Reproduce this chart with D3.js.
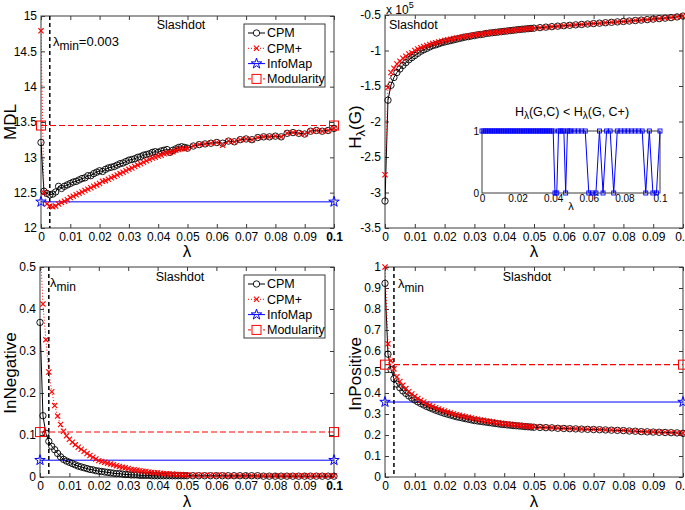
<!DOCTYPE html>
<html><head><meta charset="utf-8">
<script src="https://cdn.jsdelivr.net/npm/d3@7"></script>
<style>
body{margin:0;background:#fff}
svg{display:block}
text{font-family:"Liberation Sans",Arial,Helvetica,sans-serif;fill:#000}
</style>
</head><body>
<svg id="c" width="685" height="510"></svg>
<script>
// ---------- DATA ----------
const lambda = [0,0.001,0.002,0.003,0.004,0.005,0.006,0.007,0.008,0.009,
0.010,0.011,0.012,0.013,0.014,0.015,0.016,0.017,0.018,0.019,
0.020,0.021,0.022,0.023,0.024,0.025,0.026,0.027,0.028,0.029,
0.030,0.031,0.032,0.033,0.034,0.035,0.036,0.037,0.038,0.039,
0.040,0.041,0.042,0.043,0.044,0.045,0.046,0.047,0.048,0.049,
0.050,0.052,0.054,0.056,0.058,0.060,0.062,0.064,0.066,0.068,
0.070,0.072,0.074,0.076,0.078,0.080,0.082,0.084,0.086,0.088,
0.090,0.092,0.094,0.096,0.098,0.100];

const mdlCPM = [13.21,12.52,12.49,12.47,12.48,12.51,12.59,12.56,12.59,12.61,
12.63,12.65,12.66,12.68,12.70,12.71,12.74,12.74,12.77,12.79,
12.81,12.80,12.83,12.85,12.86,12.87,12.89,12.91,12.92,12.94,
12.96,12.97,12.98,13.00,13.01,13.03,13.04,13.05,13.07,13.08,
13.07,13.09,13.10,13.11,13.07,13.10,13.12,13.14,13.15,13.14,
13.13,13.16,13.18,13.19,13.20,13.21,13.20,13.23,13.22,13.25,
13.26,13.25,13.28,13.29,13.29,13.30,13.29,13.34,13.35,13.34,
13.33,13.37,13.38,13.37,13.38,13.41];
const mdlCPMplus = [14.79,12.50,12.34,12.31,12.30,12.31,12.34,12.36,12.38,12.40,
12.43,12.45,12.47,12.49,12.51,12.53,12.55,12.57,12.59,12.61,
12.63,12.66,12.67,12.69,12.71,12.73,12.75,12.77,12.79,12.81,
12.83,12.85,12.87,12.89,12.91,12.93,12.95,12.97,12.99,13.00,
13.02,13.03,13.05,13.06,13.07,13.08,13.10,13.11,13.12,13.12,
13.13,13.16,13.18,13.19,13.20,13.21,13.17,13.23,13.22,13.25,
13.26,13.25,13.28,13.29,13.29,13.30,13.29,13.34,13.35,13.34,
13.33,13.37,13.38,13.37,13.38,13.41];
const mdlInfoMap = 12.37;
const mdlModularity = 13.45;

// H_lambda(G) in units of 1e5
const hCPM = [-3.12,-1.70,-1.49,-1.38,-1.31,-1.26,-1.21,-1.17,-1.13,-1.10,
-1.07,-1.04,-1.01,-0.99,-0.97,-0.95,-0.93,-0.92,-0.905,-0.89,
-0.88,-0.87,-0.86,-0.85,-0.84,-0.83,-0.82,-0.81,-0.805,-0.795,
-0.79,-0.78,-0.775,-0.77,-0.76,-0.755,-0.75,-0.745,-0.74,-0.735,
-0.73,-0.725,-0.72,-0.715,-0.71,-0.705,-0.70,-0.697,-0.693,-0.689,
-0.685,-0.678,-0.671,-0.664,-0.657,-0.651,-0.645,-0.639,-0.633,-0.627,
-0.621,-0.615,-0.609,-0.603,-0.597,-0.591,-0.585,-0.578,-0.572,-0.565,
-0.558,-0.551,-0.544,-0.537,-0.527,-0.515];
const hCPMplus = [-2.75,-1.52,-1.31,-1.25,-1.19,-1.15,-1.11,-1.08,-1.05,-1.03,
-1.00,-0.98,-0.96,-0.945,-0.93,-0.915,-0.90,-0.89,-0.88,-0.87,
-0.86,-0.85,-0.84,-0.832,-0.824,-0.816,-0.808,-0.80,-0.795,-0.788,
-0.782,-0.776,-0.77,-0.765,-0.758,-0.752,-0.747,-0.742,-0.738,-0.733,
-0.728,-0.724,-0.72,-0.715,-0.71,-0.705,-0.70,-0.697,-0.693,-0.689,
-0.685,-0.678,-0.671,-0.664,-0.657,-0.651,-0.645,-0.639,-0.633,-0.627,
-0.621,-0.615,-0.609,-0.603,-0.597,-0.591,-0.585,-0.578,-0.572,-0.565,
-0.558,-0.551,-0.544,-0.537,-0.527,-0.515];

// inset: 1 if H(G,C) < H(G,C+)
const insetFlag = [1,1,1,1,1,1,1,1,1,1,
1,1,1,1,1,1,1,1,1,1,
1,1,1,1,1,1,1,1,1,1,
1,1,1,1,1,1,1,1,1,1,
1,0,0,1,1,1,1,0,1,1,
1,1,1,1,1,0,0,0,1,0,
1,1,0,1,1,1,1,1,1,1,
1,0,1,0,0,1];

const negCPM = [0.368,0.146,0.104,0.085,0.073,0.065,0.056,0.048,0.042,0.038,
0.035,0.032,0.029,0.026,0.024,0.022,0.020,0.018,0.017,0.015,
0.014,0.013,0.012,0.011,0.010,0.009,0.008,0.008,0.007,0.006,
0.006,0.005,0.005,0.005,0.004,0.004,0.004,0.004,0.003,0.003,
0.003,0.003,0.003,0.003,0.003,0.003,0.003,0.003,0.003,0.003,
0.003,0.003,0.003,0.003,0.003,0.003,0.003,0.003,0.003,0.003,
0.003,0.003,0.003,0.002,0.002,0.002,0.002,0.002,0.002,0.002,
0.002,0.002,0.002,0.002,0.002,0.002];
const negCPMplus = [0.56,0.412,0.327,0.250,0.203,0.170,0.145,0.125,0.109,0.098,
0.090,0.083,0.077,0.071,0.066,0.061,0.056,0.051,0.047,0.043,
0.039,0.037,0.035,0.033,0.031,0.029,0.027,0.025,0.023,0.022,
0.020,0.018,0.017,0.016,0.015,0.014,0.013,0.012,0.011,0.010,
0.010,0.009,0.008,0.008,0.007,0.007,0.006,0.006,0.006,0.005,
0.005,0.004,0.004,0.004,0.004,0.004,0.004,0.003,0.003,0.003,
0.003,0.003,0.003,0.003,0.003,0.003,0.003,0.003,0.003,0.003,
0.003,0.003,0.003,0.003,0.003,0.003];
const negInfoMap = 0.040;
const negModularity = 0.107;

const posCPM = [0.922,0.585,0.512,0.468,0.442,0.425,0.410,0.398,0.386,0.376,
0.367,0.358,0.350,0.343,0.336,0.330,0.324,0.318,0.313,0.308,
0.303,0.299,0.295,0.291,0.287,0.284,0.281,0.278,0.275,0.272,
0.269,0.267,0.265,0.263,0.261,0.259,0.257,0.255,0.253,0.251,
0.250,0.248,0.247,0.245,0.244,0.243,0.242,0.240,0.239,0.238,
0.237,0.236,0.235,0.234,0.232,0.231,0.230,0.229,0.228,0.227,
0.226,0.225,0.224,0.223,0.222,0.221,0.219,0.218,0.216,0.215,
0.214,0.213,0.212,0.211,0.210,0.208];
const posCPMplus = [1.000,0.634,0.554,0.515,0.477,0.455,0.437,0.421,0.407,0.395,
0.384,0.374,0.365,0.357,0.349,0.342,0.336,0.330,0.324,0.319,
0.314,0.309,0.305,0.301,0.297,0.294,0.290,0.287,0.284,0.281,
0.278,0.275,0.272,0.270,0.267,0.265,0.263,0.260,0.258,0.256,
0.254,0.252,0.251,0.249,0.247,0.246,0.244,0.243,0.241,0.240,
0.239,0.237,0.236,0.235,0.233,0.232,0.231,0.230,0.229,0.228,
0.227,0.226,0.225,0.224,0.223,0.222,0.220,0.219,0.217,0.216,
0.215,0.214,0.213,0.212,0.211,0.209];
const posInfoMap = 0.357;
const posModularity = 0.535;

const lambdaMin = 0.003;
const xTicks = [0,0.01,0.02,0.03,0.04,0.05,0.06,0.07,0.08,0.09,0.1];
const xTickLabels = ["0","0.01","0.02","0.03","0.04","0.05","0.06","0.07","0.08","0.09","0.1"];
const mdlTicks = [12,12.5,13,13.5,14,14.5,15];
const mdlTickLabels = ["12","12.5","13","13.5","14","14.5","15"];
const hTicks = [-3.5,-3,-2.5,-2,-1.5,-1,-0.5];
const hTickLabels = ["-3.5","-3","-2.5","-2","-1.5","-1","-0.5"];
const negTicks = [0,0.1,0.2,0.3,0.4,0.5];
const negTickLabels = ["0","0.1","0.2","0.3","0.4","0.5"];
const posTicks = [0,0.1,0.2,0.3,0.4,0.5,0.6,0.7,0.8,0.9,1];
const posTickLabels = ["0","0.1","0.2","0.3","0.4","0.5","0.6","0.7","0.8","0.9","1"];
const insetXTicks = [0,0.02,0.04,0.06,0.08,0.1];
const insetXTickLabels = ["0","0.02","0.04","0.06","0.08","0.1"];
const legendLabels = ["CPM","CPM+","InfoMap","Modularity"];

// ---------- DRAWING ----------
const svg = d3.select("#c");
const AX = "#3a3a3a";
const RED = "#ff0000", BLUE = "#0000ff";
const crossPath = "M-2.6,-2.6L2.6,2.6M-2.6,2.6L2.6,-2.6";
const starPath = d3.symbol(d3.symbolStar, 34)();
let clipN = 0;

function axesFrame(o){
  const x = d3.scaleLinear().domain(o.xDomain).range([o.x0,o.x1]);
  const y = d3.scaleLinear().domain(o.yDomain).range([o.y1,o.y0]);
  const g = svg.append("g");
  const fs = o.fs || 12;
  const style = sel => {
    sel.select(".domain").remove();
    sel.selectAll(".tick line").attr("stroke",AX);
    sel.selectAll(".tick text").attr("font-size",fs).attr("fill","#000")
      .style("font-family",'"Liberation Sans",Arial,sans-serif');
  };
  const tl = o.tickLen === undefined ? 4 : o.tickLen;
  g.append("g").attr("transform",`translate(0,${o.y1})`)
    .call(d3.axisBottom(x).tickValues(o.xTicks).tickFormat((d,i)=>o.xLabels[i]).tickSizeInner(-tl).tickSizeOuter(0).tickPadding(o.xPad||4))
    .call(style).call(s=>{ if(o.boldLast) s.selectAll(".tick text").filter((d,i)=>i===o.xTicks.length-1).attr("font-weight","bold"); });
  g.append("g").attr("transform",`translate(${o.x0},0)`)
    .call(d3.axisLeft(y).tickValues(o.yTicks).tickFormat((d,i)=>o.yLabels[i]).tickSizeInner(-tl).tickSizeOuter(0).tickPadding(o.yPad||4))
    .call(style);
  if (tl>0){
    g.append("g").attr("transform",`translate(0,${o.y0})`)
      .call(d3.axisTop(x).tickValues(o.xTicks).tickFormat("").tickSizeInner(-tl).tickSizeOuter(0)).call(style);
    g.append("g").attr("transform",`translate(${o.x1},0)`)
      .call(d3.axisRight(y).tickValues(o.yTicks).tickFormat("").tickSizeInner(-tl).tickSizeOuter(0)).call(style);
  }
  g.append("rect").attr("x",o.x0).attr("y",o.y0).attr("width",o.x1-o.x0).attr("height",o.y1-o.y0)
    .attr("fill","none").attr("stroke",AX).attr("stroke-width",1);
  const id = "clip"+(clipN++);
  svg.append("clipPath").attr("id",id).append("rect")
    .attr("x",o.x0).attr("y",o.y0).attr("width",o.x1-o.x0).attr("height",o.y1-o.y0);
  const plot = svg.append("g").attr("clip-path",`url(#${id})`);
  const marks = svg.append("g");
  return {x,y,g,plot,marks,o};
}

function drawCurves(P, cpm, cpmPlus){
  const {x,y,plot,marks} = P;
  const [lo,hi] = y.domain();
  const line = d3.line().x((d,i)=>x(lambda[i])).y(d=>y(d));
  plot.append("path").attr("d",line(cpm)).attr("fill","none").attr("stroke","#000").attr("stroke-width",1);
  plot.append("path").attr("d",line(cpmPlus)).attr("fill","none").attr("stroke",RED).attr("stroke-width",1).attr("stroke-dasharray","1,2");
  marks.append("g").selectAll("circle").data(cpm.map((v,i)=>[lambda[i],v]).filter(d=>d[1]>=lo&&d[1]<=hi))
    .join("circle").attr("cx",d=>x(d[0])).attr("cy",d=>y(d[1])).attr("r",3.2)
    .attr("fill","none").attr("stroke","#000").attr("stroke-width",0.9);
  marks.append("g").selectAll("path").data(cpmPlus.map((v,i)=>[lambda[i],v]).filter(d=>d[1]>=lo&&d[1]<=hi))
    .join("path").attr("d",crossPath).attr("transform",d=>`translate(${x(d[0])},${y(d[1])})`)
    .attr("fill","none").attr("stroke",RED).attr("stroke-width",1.1);
}

function drawRefs(P, infoVal, modVal){
  const {x,y,plot,marks} = P;
  const ends = [0,0.1];
  plot.append("line").attr("x1",x(0)).attr("x2",x(0.1)).attr("y1",y(modVal)).attr("y2",y(modVal))
    .attr("stroke",RED).attr("stroke-width",1.1).attr("stroke-dasharray","6,3");
  plot.append("line").attr("x1",x(0)).attr("x2",x(0.1)).attr("y1",y(infoVal)).attr("y2",y(infoVal))
    .attr("stroke",BLUE).attr("stroke-width",1);
  marks.selectAll(null).data(ends).join("rect").attr("x",d=>x(d)-4.5).attr("y",y(modVal)-4.5)
    .attr("width",9).attr("height",9).attr("fill","none").attr("stroke",RED).attr("stroke-width",1);
  marks.selectAll(null).data(ends).join("path").attr("d",starPath)
    .attr("transform",d=>`translate(${x(d)},${y(infoVal)})`).attr("fill","none").attr("stroke",BLUE).attr("stroke-width",1);
}

function lambdaMinLine(P){
  const {x,y,plot} = P;
  plot.append("line").attr("x1",x(lambdaMin)).attr("x2",x(lambdaMin)).attr("y1",P.o.y0).attr("y2",P.o.y1)
    .attr("stroke","#000").attr("stroke-width",1.5).attr("stroke-dasharray","4,3");
}

function lambdaMinText(px,py,suffix){
  const t = svg.append("text").attr("x",px).attr("y",py).attr("font-size",13);
  t.append("tspan").text("λ");
  t.append("tspan").attr("dy",4).attr("font-size",12).text("min");
  if (suffix) t.append("tspan").attr("dy",-4).text(suffix);
}

function legend(bx,by){
  const w=81,h=63;
  const g = svg.append("g");
  g.append("rect").attr("x",bx).attr("y",by).attr("width",w).attr("height",h).attr("fill","#fff").attr("stroke",AX);
  legendLabels.forEach((lab,i)=>{
    const cy = by+9+i*15.3;
    const lx0 = bx+4, lx1 = bx+21, mx = bx+12.5;
    const ln = g.append("line").attr("x1",lx0).attr("x2",lx1).attr("y1",cy).attr("y2",cy).attr("stroke-width",1);
    if(i===0){ ln.attr("stroke","#000");
      g.append("circle").attr("cx",mx).attr("cy",cy).attr("r",3.2).attr("fill","#fff").attr("stroke","#000").attr("stroke-width",0.9); }
    if(i===1){ ln.attr("stroke",RED).attr("stroke-dasharray","1,2");
      g.append("path").attr("d",crossPath).attr("transform",`translate(${mx},${cy})`).attr("stroke",RED).attr("stroke-width",1.1); }
    if(i===2){ ln.attr("stroke",BLUE);
      g.append("path").attr("d",starPath).attr("transform",`translate(${mx},${cy})`).attr("fill","none").attr("stroke",BLUE); }
    if(i===3){ ln.attr("stroke",RED).attr("stroke-dasharray","3,2");
      g.append("rect").attr("x",mx-4.5).attr("y",cy-4.5).attr("width",9).attr("height",9).attr("fill","#fff").attr("stroke",RED); }
    g.append("text").attr("x",bx+23).attr("y",cy).attr("dy","0.35em").attr("font-size",12.5).text(lab);
  });
}

function yLabel(px,py,txt){
  return svg.append("text").attr("transform",`translate(${px},${py}) rotate(-90)`).attr("text-anchor","middle").attr("font-size",17).text(txt);
}
function xLabel(px,py){
  svg.append("text").attr("x",px).attr("y",py).attr("text-anchor","middle").attr("font-size",17).text("λ");
}

// ---- Panel 1: MDL ----
const P1 = axesFrame({x0:41,x1:334,y0:16,y1:228,xDomain:[0,0.1],yDomain:[12,15],
  xTicks,xLabels:xTickLabels,yTicks:mdlTicks,yLabels:mdlTickLabels,boldLast:true});
lambdaMinLine(P1);
drawCurves(P1, mdlCPM, mdlCPMplus);
drawRefs(P1, mdlInfoMap, mdlModularity);
svg.append("text").attr("x",181).attr("y",29).attr("text-anchor","middle").attr("font-size",12.5).text("Slashdot");
lambdaMinText(53,46,"=0.003");
legend(244,24);
yLabel(16,122,"MDL");
xLabel(187,257);

// ---- Panel 2: H_lambda(G) ----
const P2 = axesFrame({x0:385,x1:683,y0:15,y1:228,xDomain:[0,0.1],yDomain:[-3.5,-0.5],
  xTicks,xLabels:xTickLabels,yTicks:hTicks,yLabels:hTickLabels});
drawCurves(P2, hCPM, hCPMplus);
svg.append("text").attr("x",389).attr("y",29).attr("font-size",12.5).text("Slashdot");
{
  const t = svg.append("text").attr("x",386).attr("y",14).attr("font-size",12);
  t.append("tspan").text("x 10");
  t.append("tspan").attr("dy",-6).attr("font-size",9).text("5");
}
{
  const t = svg.append("text").attr("transform","translate(361,127) rotate(-90)").attr("text-anchor","middle").attr("font-size",17);
  t.append("tspan").text("H");
  t.append("tspan").attr("dy",4).attr("font-size",13).text("λ");
  t.append("tspan").attr("dy",-4).text("(G)");
}
xLabel(534,257);

// inset
const P2i = axesFrame({x0:482,x1:660,y0:131,y1:193,xDomain:[0,0.1],yDomain:[0,1],
  xTicks:insetXTicks,xLabels:insetXTickLabels,yTicks:[0,1],yLabels:["0","1"],fs:10,tickLen:0,xPad:2,yPad:3});
{
  const {x,y,marks} = P2i;
  const line = d3.line().x((d,i)=>x(lambda[i])).y(d=>y(d));
  marks.append("path").attr("d",line(insetFlag)).attr("fill","none").attr("stroke",BLUE).attr("stroke-width",1);
  marks.selectAll(null).data(insetFlag.map((v,i)=>[lambda[i],v])).join("rect")
    .attr("x",d=>x(d[0])-2).attr("y",d=>y(d[1])-2).attr("width",4).attr("height",4)
    .attr("fill","none").attr("stroke",BLUE).attr("stroke-width",0.9);
  const t = svg.append("text").attr("x",572).attr("y",116).attr("text-anchor","middle").attr("font-size",12.5);
  t.append("tspan").text("H");
  t.append("tspan").attr("dy",3).attr("font-size",10).text("λ");
  t.append("tspan").attr("dy",-3).text("(G,C) < H");
  t.append("tspan").attr("dy",3).attr("font-size",10).text("λ");
  t.append("tspan").attr("dy",-3).text("(G, C+)");
  svg.append("text").attr("x",571).attr("y",210).attr("text-anchor","middle").attr("font-size",11).text("λ");
}

// ---- Panel 3: InNegative ----
const P3 = axesFrame({x0:40,x1:334,y0:267,y1:477,xDomain:[0,0.1],yDomain:[0,0.5],
  xTicks,xLabels:xTickLabels,yTicks:negTicks,yLabels:negTickLabels,boldLast:true});
lambdaMinLine(P3);
drawCurves(P3, negCPM, negCPMplus);
drawRefs(P3, negInfoMap, negModularity);
svg.append("text").attr("x",180).attr("y",281).attr("text-anchor","middle").attr("font-size",12.5).text("Slashdot");
lambdaMinText(50,287,null);
legend(244,275);
yLabel(16,373,"InNegative");
xLabel(187,507);

// ---- Panel 4: InPositive ----
const P4 = axesFrame({x0:385,x1:683,y0:267,y1:477,xDomain:[0,0.1],yDomain:[0,1],
  xTicks,xLabels:xTickLabels,yTicks:posTicks,yLabels:posTickLabels});
lambdaMinLine(P4);
drawCurves(P4, posCPM, posCPMplus);
drawRefs(P4, posInfoMap, posModularity);
svg.append("text").attr("x",527).attr("y",281).attr("text-anchor","middle").attr("font-size",12.5).text("Slashdot");
lambdaMinText(398,288,null);
yLabel(361,374,"InPositive");
xLabel(534,507);
</script>
</body></html>
